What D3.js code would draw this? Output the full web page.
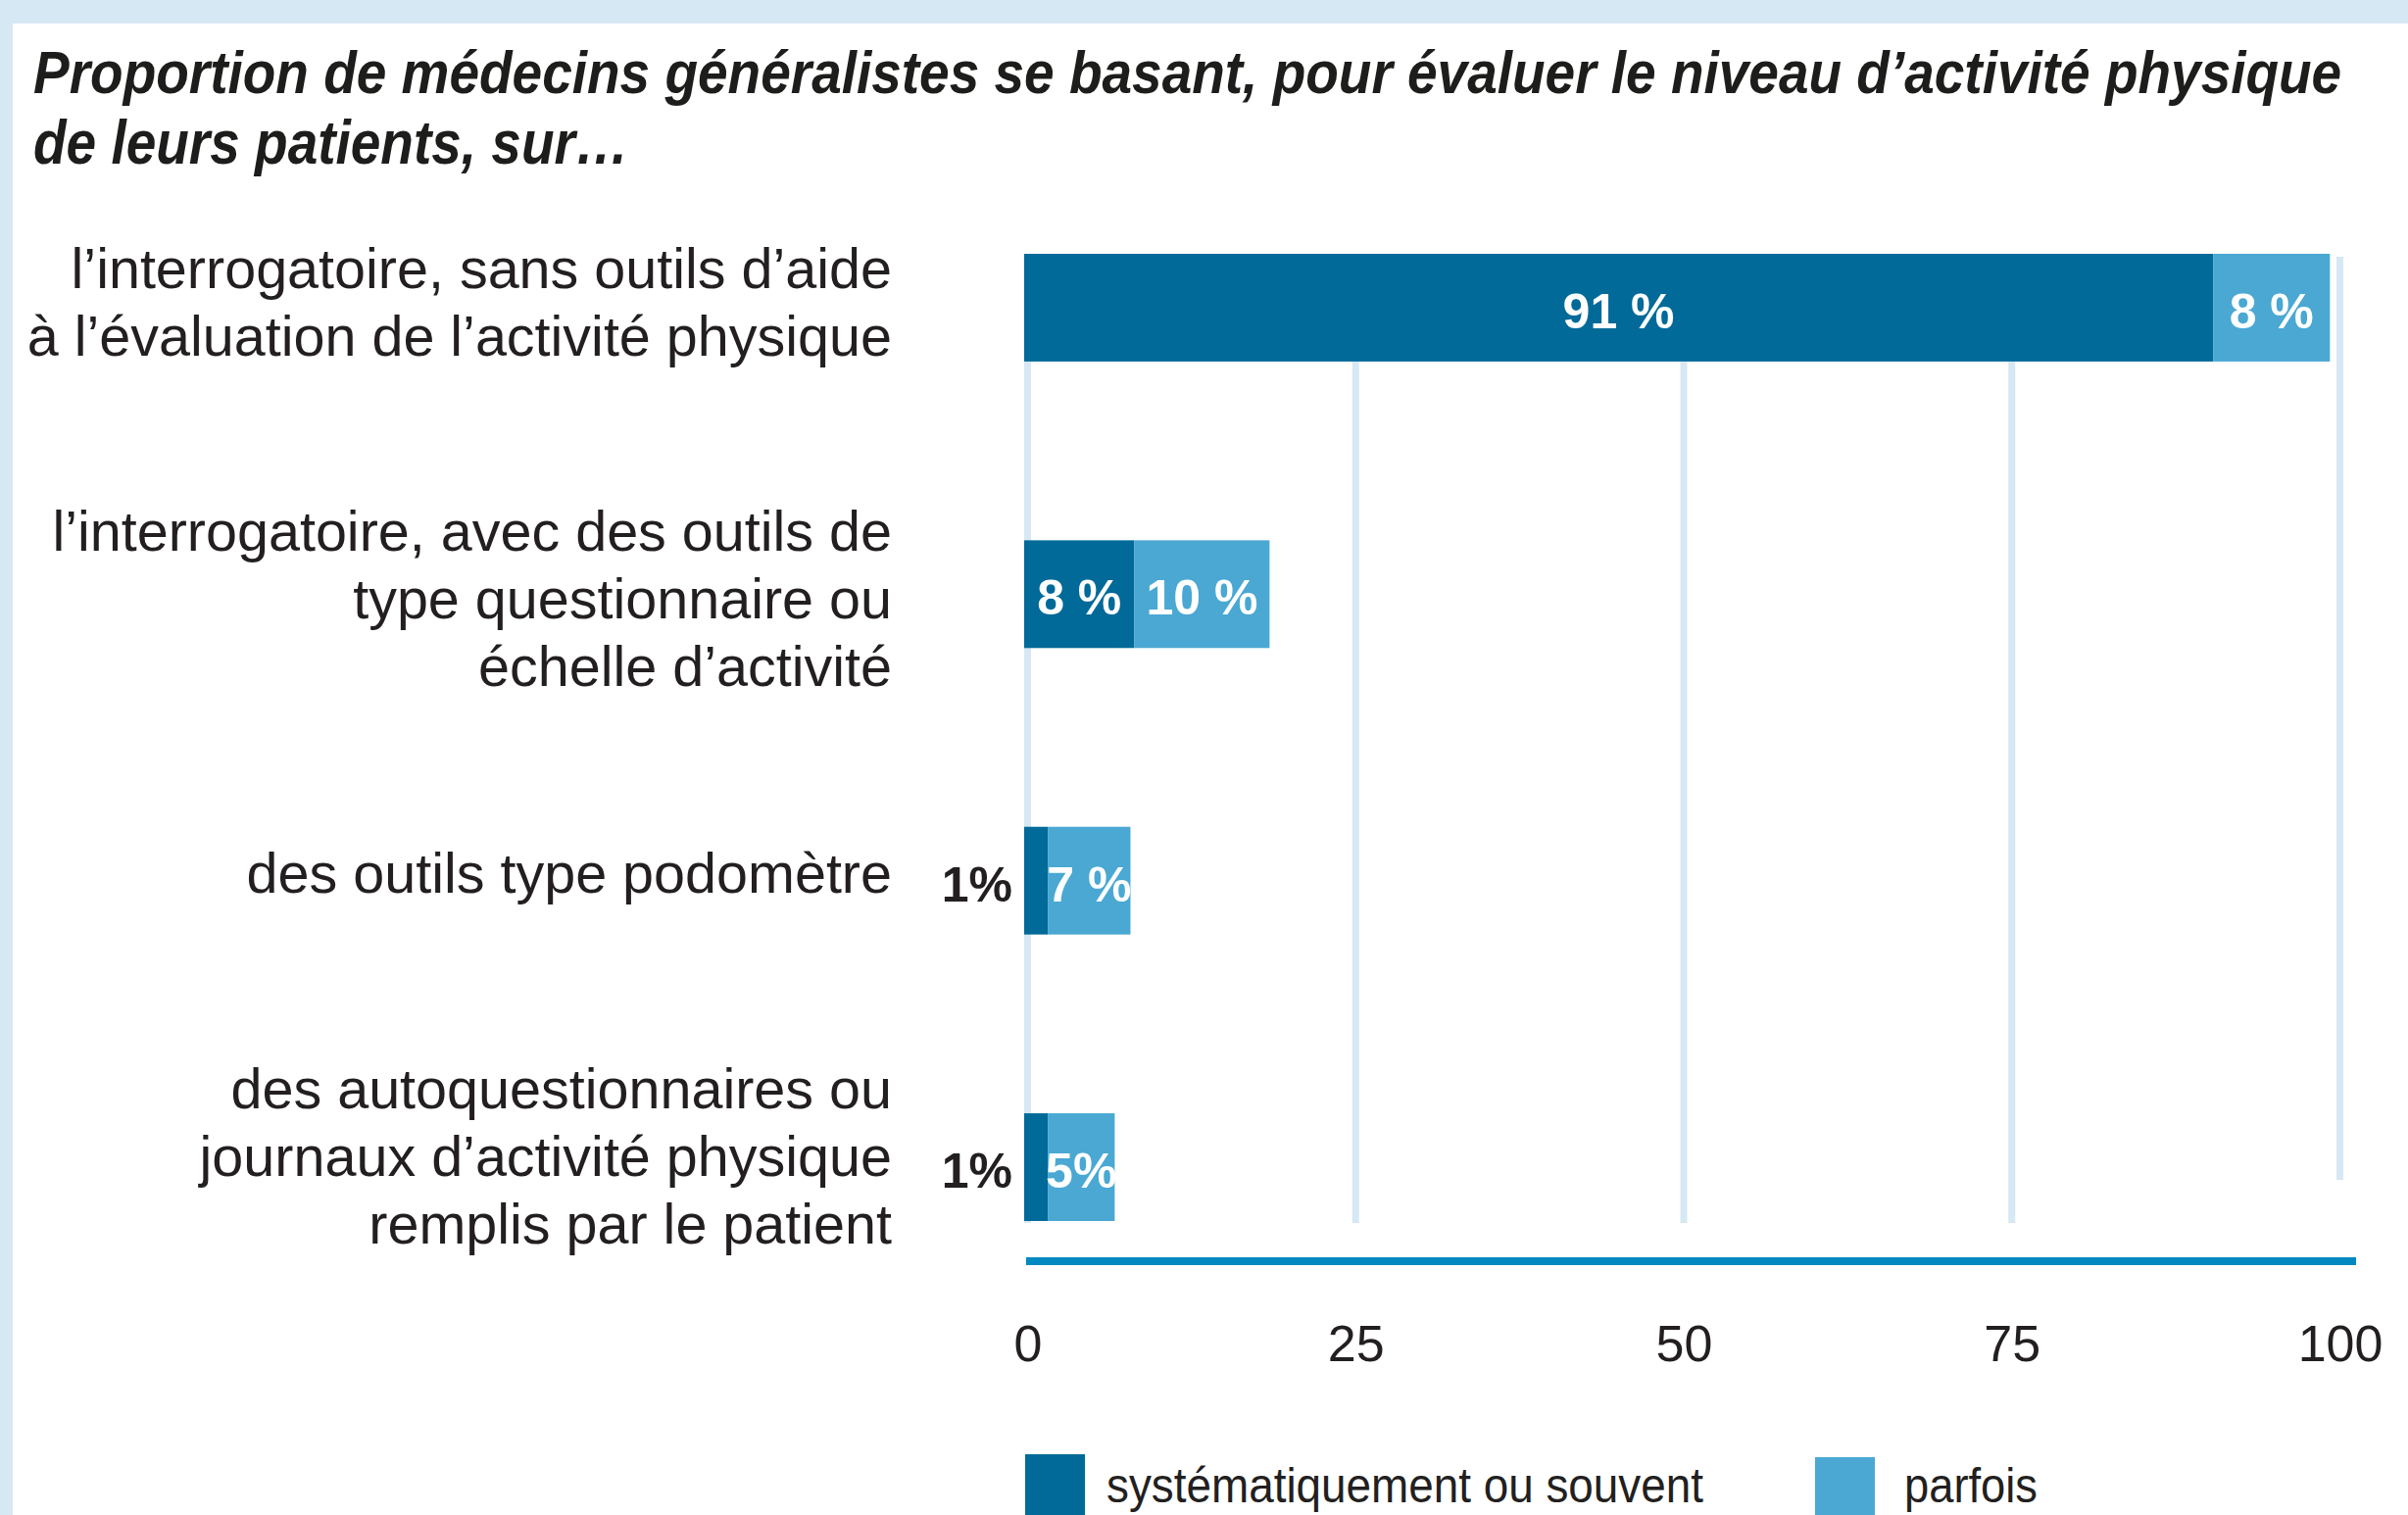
<!DOCTYPE html>
<html lang="fr">
<head>
<meta charset="utf-8">
<title>Évaluation de l'activité physique</title>
<script src="https://cdn.jsdelivr.net/npm/d3@7/dist/d3.min.js"></script>
<style>
    body { margin: 0; background: #ffffff; }
    svg { display: block; }
    .title text { font-family: "Liberation Sans Narrow", "Liberation Sans", Arial, sans-serif; font-size: 62px; font-weight: bold; font-style: italic; fill: #1d1d1b; }
    .cat-label { font-family: "Liberation Sans", Arial, sans-serif; font-size: 57.5px; fill: #231f20; }
    .bar-label { font-family: "Liberation Sans", Arial, sans-serif; font-size: 50px; font-weight: bold; }
    .legend text { font-family: "Liberation Sans", Arial, sans-serif; font-size: 50px; fill: #231f20; }
</style>
</head>
<body>
<div id="chart"></div>
<script>
// Data
const titleLines = [
    "Proportion de médecins généralistes se basant, pour évaluer le niveau d’activité physique",
    "de leurs patients, sur…"
];
const categories = ["sans-outils", "outils-questionnaire", "podometre", "autoquestionnaires"];
const categoryLines = [
    ["l’interrogatoire, sans outils d’aide", "à l’évaluation de l’activité physique"],
    ["l’interrogatoire, avec des outils de", "type questionnaire ou", "échelle d’activité"],
    ["des outils type podomètre"],
    ["des autoquestionnaires ou", "journaux d’activité physique", "remplis par le patient"]
];
const systematique = [90.6, 8.4, 1.8, 1.8];
const parfois = [8.9, 10.3, 6.3, 5.1];
const systematiqueLabels = ["91 %", "8 %", "1%", "1%"];
const parfoisLabels = ["8 %", "10 %", "7 %", "5%"];
const tickValues = [0, 25, 50, 75, 100];
const seriesNames = ["systématiquement ou souvent", "parfois"];

const darkBlue = "#016a99";
const lightBlue = "#4aa8d3";
const gridBlue = "#d6e8f4";
const axisBlue = "#0089c1";

renderChart();

function renderChart() {
    let width = 2457, height = 1546;

    let svg = d3.select("#chart").append("svg")
        .attr("width", width).attr("height", height);

    //Light Blue Frame
    svg.append("rect").attr("width", width).attr("height", height).attr("fill", gridBlue);
    svg.append("rect").attr("x", 13).attr("y", 24)
        .attr("width", width - 13).attr("height", height - 24).attr("fill", "#ffffff");

    //Title (squeezed horizontally to the condensed width of the original)
    let titleWidths = [2356, 608];
    svg.append("g").attr("class", "title")
        .selectAll("text").data(titleLines).enter().append("text")
        .text(d => d)
        .each(function(d, i) {
            let natural = this.getComputedTextLength();
            let sx = titleWidths[i] / natural;
            d3.select(this).attr("transform", "translate(34," + (95 + i * 72) + ") scale(" + sx + ",1)");
        });

    //Scales
    let x = d3.scaleLinear().domain([0, 100]).range([1045, 2384]);
    let y = d3.scaleBand().domain(categories).range([259, 1246]).paddingInner(0.624).paddingOuter(0);
    let gridW = 7;

    //Gridlines
    svg.append("g").attr("class", "grid")
        .selectAll("rect").data(tickValues).enter().append("rect")
        .attr("x", d => x(d))
        .attr("y", y(categories[0]) + 3)
        .attr("width", gridW)
        .attr("height", d => (d === 100 ? y(categories[3]) + y.bandwidth() / 2 + 13 : y(categories[3]) + y.bandwidth() + 2) - y(categories[0]) - 3)
        .attr("fill", gridBlue);

    //Category Labels
    let lineH = 69;
    let labelNudge = [0, 10, -3, -6];
    let cats = svg.append("g").attr("class", "cats");
    categories.forEach((c, i) => {
        let lines = categoryLines[i];
        let mid = y(c) + y.bandwidth() / 2;
        let first = mid - (lines.length - 1) * lineH / 2 + 15 + labelNudge[i];
        cats.selectAll(null).data(lines).enter().append("text")
            .attr("class", "cat-label")
            .attr("x", 910)
            .attr("y", (d, j) => first + j * lineH)
            .attr("text-anchor", "end")
            .text(d => d);
    });

    //Stacked Bars
    let rows = categories.map((c, i) => ({
        cat: c, sys: systematique[i], par: parfois[i],
        sysLabel: systematiqueLabels[i], parLabel: parfoisLabels[i]
    }));
    let fitsInside = d => x(d.sys) - x(0) > 60;

    let bars = svg.append("g").attr("class", "bars");
    bars.selectAll(".bar-sys").data(rows).enter().append("rect")
        .attr("class", "bar-sys")
        .attr("x", x(0))
        .attr("y", d => y(d.cat))
        .attr("width", d => x(d.sys) - x(0))
        .attr("height", y.bandwidth())
        .attr("fill", darkBlue);

    bars.selectAll(".bar-par").data(rows).enter().append("rect")
        .attr("class", "bar-par")
        .attr("x", d => x(d.sys))
        .attr("y", d => y(d.cat))
        .attr("width", d => x(d.sys + d.par) - x(d.sys))
        .attr("height", y.bandwidth())
        .attr("fill", lightBlue);

    //Value Labels
    bars.selectAll(".lab-sys").data(rows).enter().append("text")
        .attr("class", "bar-label")
        .attr("x", d => fitsInside(d) ? (x(0) + x(d.sys)) / 2 : x(0) - 12)
        .attr("y", d => y(d.cat) + y.bandwidth() / 2)
        .attr("dy", "0.42em")
        .attr("text-anchor", d => fitsInside(d) ? "middle" : "end")
        .attr("fill", d => fitsInside(d) ? "#ffffff" : "#231f20")
        .text(d => d.sysLabel);

    bars.selectAll(".lab-par").data(rows).enter().append("text")
        .attr("class", "bar-label")
        .attr("x", d => (x(d.sys) + x(d.sys + d.par)) / 2)
        .attr("y", d => y(d.cat) + y.bandwidth() / 2)
        .attr("dy", "0.42em")
        .attr("text-anchor", "middle")
        .attr("fill", "#ffffff")
        .text(d => d.parLabel);

    //X Axis
    let axisY = 1287;
    let xAxis = d3.axisBottom(x).tickValues(tickValues).tickSize(0).tickPadding(65);
    let axis = svg.append("g").attr("class", "x-axis")
        .attr("transform", "translate(" + (gridW / 2) + "," + axisY + ")")
        .call(xAxis);
    axis.select(".domain").remove();
    axis.selectAll("text")
        .attr("font-family", "'Liberation Sans', Arial, sans-serif")
        .attr("font-size", "52px")
        .attr("fill", "#231f20");

    svg.append("line")
        .attr("x1", x(0) + 2).attr("x2", x(100) + 20)
        .attr("y1", axisY).attr("y2", axisY)
        .attr("stroke", axisBlue).attr("stroke-width", 8);

    //Legend
    let legendOffsets = [0, 806];
    let legendWidths = [609, 136];
    let legend = svg.append("g").attr("class", "legend");
    let items = legend.selectAll("g").data(seriesNames).enter().append("g")
        .attr("transform", (d, i) => "translate(" + (x(0) + 1 + legendOffsets[i]) + ",0)");
    items.append("rect")
        .attr("x", 0).attr("y", (d, i) => 1484 + i * 3)
        .attr("width", 61).attr("height", 80)
        .attr("fill", (d, i) => i === 0 ? darkBlue : lightBlue);
    items.append("text")
        .attr("x", (d, i) => i === 0 ? 83 : 91)
        .attr("y", 1533)
        .attr("textLength", (d, i) => legendWidths[i])
        .attr("lengthAdjust", "spacingAndGlyphs")
        .text(d => d);
}
</script>
</body>
</html>
